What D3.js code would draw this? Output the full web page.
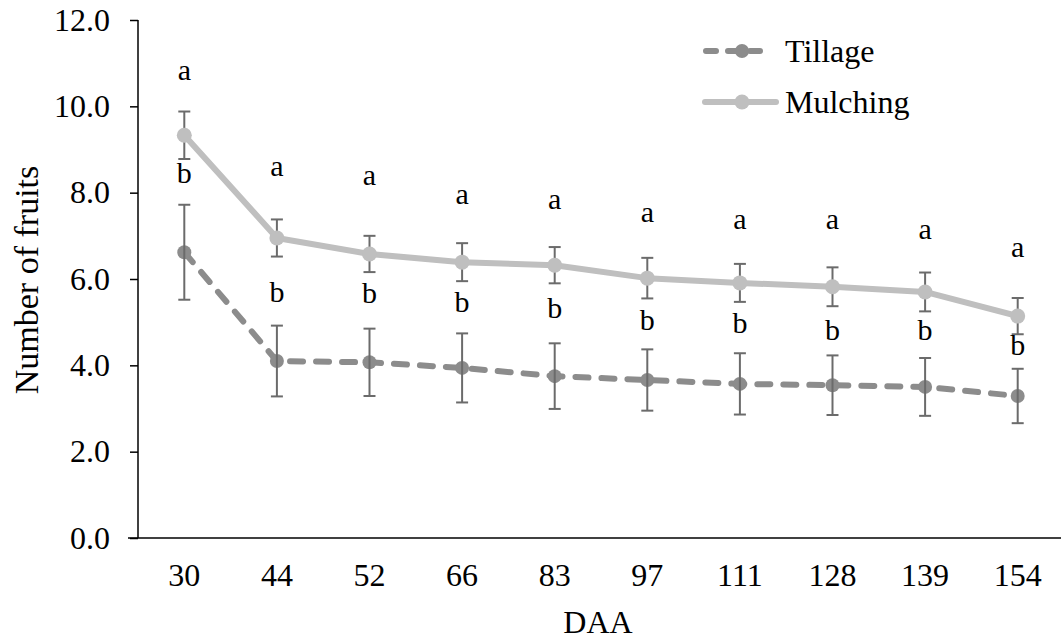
<!DOCTYPE html>
<html><head><meta charset="utf-8">
<script src="https://cdn.jsdelivr.net/npm/d3@7"></script>
<style>body{margin:0;background:#fff}svg{display:block}svg text{font-family:"Liberation Serif","Times New Roman",Times,serif !important;fill:#000}</style>
</head><body>
<svg id="c" width="1061" height="641" font-family="Liberation Serif, Times New Roman, serif"></svg>
<script>
const categories = ["30","44","52","66","83","97","111","128","139","154"];
const tillage =      [6.62,4.10,4.07,3.94,3.75,3.66,3.57,3.54,3.50,3.29];
const tillageErr =   [1.10,0.82,0.78,0.80,0.76,0.71,0.71,0.69,0.67,0.63];
const mulching =     [9.33,6.95,6.58,6.39,6.32,6.02,5.91,5.82,5.70,5.14];
const mulchingErr =  [0.55,0.43,0.42,0.44,0.42,0.47,0.44,0.45,0.45,0.42];
const letterA = ["a","a","a","a","a","a","a","a","a","a"];
const letterAPos = [10.61,8.39,8.18,7.74,7.62,7.32,7.16,7.16,6.93,6.51];
const letterB = ["b","b","b","b","b","b","b","b","b","b"];
const letterBPos = [8.22,5.47,5.44,5.24,5.10,4.82,4.75,4.59,4.59,4.24];
const yTicks = [0,2,4,6,8,10,12];

const FONT = "'Liberation Serif', 'Times New Roman', serif";
const svg = d3.select("#c");
const x = d3.scaleBand().domain(categories).range([138,1064]).padding(0);
const y = d3.scaleLinear().domain([0,12]).range([538,20]);
const cx = c => x(c) + x.bandwidth()/2;

const cTill = "#8c8c8c", cMul = "#bfbfbf", cErr = "#6b6b6b";

// y axis
const ya = svg.append("g").attr("transform","translate(138,0)")
  .call(d3.axisLeft(y).tickValues(yTicks).tickFormat(d3.format(".1f")).tickSize(8).tickPadding(20))
  .attr("font-family",FONT);
ya.select(".domain").attr("stroke","#000").attr("stroke-width",1.5).attr("d","M0,20V538");
ya.selectAll(".tick line").attr("stroke","#000").attr("stroke-width",1.5);
ya.selectAll(".tick text").style("font-size","32px").attr("fill","#000").style("font-family",FONT);

// x axis
const xa = svg.append("g").attr("transform","translate(0,538)")
  .call(d3.axisBottom(x).tickSize(0).tickPadding(29))
  .attr("font-family",FONT);
xa.select(".domain").attr("stroke","#000").attr("stroke-width",1.5).attr("d","M128,0H1064");
xa.selectAll(".tick text").style("font-size","32px").attr("fill","#000").style("font-family",FONT).attr("dy","0.6em");

// titles
svg.append("text").attr("x",598).attr("y",633).attr("text-anchor","middle").style("font-size","32px").style("font-family",FONT).text("DAA");
svg.append("text").attr("transform","translate(38,280) rotate(-90)").attr("text-anchor","middle").style("font-size","34px").style("font-family",FONT).text("Number of fruits");

function errBars(vals, errs){
  const grp = svg.append("g");
  categories.forEach((c,i)=>{
    const X = cx(c), t = y(vals[i]+errs[i]), b = y(vals[i]-errs[i]);
    grp.append("line").attr("x1",X).attr("x2",X).attr("y1",t).attr("y2",b).attr("stroke",cErr).attr("stroke-width",2);
    grp.append("line").attr("x1",X-6).attr("x2",X+6).attr("y1",t).attr("y2",t).attr("stroke",cErr).attr("stroke-width",2);
    grp.append("line").attr("x1",X-6).attr("x2",X+6).attr("y1",b).attr("y2",b).attr("stroke",cErr).attr("stroke-width",2);
  });
}

const line = d3.line().x((d,i)=>cx(categories[i])).y(d=>y(d));

// tillage
svg.append("path").datum(tillage).attr("d",line).attr("fill","none").attr("stroke",cTill)
  .attr("stroke-width",6).attr("stroke-dasharray","13,13").attr("stroke-linecap","round");
svg.append("g").selectAll("circle").data(tillage).join("circle")
  .attr("cx",(d,i)=>cx(categories[i])).attr("cy",d=>y(d)).attr("r",7).attr("fill",cTill);
errBars(tillage, tillageErr);

// mulching
errBars(mulching, mulchingErr);
svg.append("path").datum(mulching).attr("d",line).attr("fill","none").attr("stroke",cMul)
  .attr("stroke-width",6).attr("stroke-linejoin","round");
svg.append("g").selectAll("circle").data(mulching).join("circle")
  .attr("cx",(d,i)=>cx(categories[i])).attr("cy",d=>y(d)).attr("r",7.5).attr("fill",cMul);

// letters
svg.append("g").selectAll("text").data(letterA).join("text")
  .attr("x",(d,i)=>cx(categories[i])).attr("y",(d,i)=>y(letterAPos[i])).attr("text-anchor","middle")
  .style("font-size","30px").style("font-family",FONT).text(d=>d);
svg.append("g").selectAll("text").data(letterB).join("text")
  .attr("x",(d,i)=>cx(categories[i])).attr("y",(d,i)=>y(letterBPos[i])).attr("text-anchor","middle")
  .style("font-size","30px").style("font-family",FONT).text(d=>d);

// legend
const lg = svg.append("g");
lg.append("line").attr("x1",706).attr("x2",766).attr("y1",51).attr("y2",51).attr("stroke",cTill)
  .attr("stroke-width",6).attr("stroke-dasharray","10,12").attr("stroke-linecap","round");
lg.append("circle").attr("cx",742).attr("cy",51).attr("r",7).attr("fill",cTill);
lg.append("text").attr("x",785).attr("y",62).style("font-size","32px").style("font-family",FONT).text("Tillage");
lg.append("line").attr("x1",705).attr("x2",776).attr("y1",102).attr("y2",102).attr("stroke",cMul)
  .attr("stroke-width",6).attr("stroke-linecap","round");
lg.append("circle").attr("cx",742).attr("cy",102).attr("r",7.5).attr("fill",cMul);
lg.append("text").attr("x",785).attr("y",113).style("font-size","32px").style("font-family",FONT).text("Mulching");
</script>
</body></html>
